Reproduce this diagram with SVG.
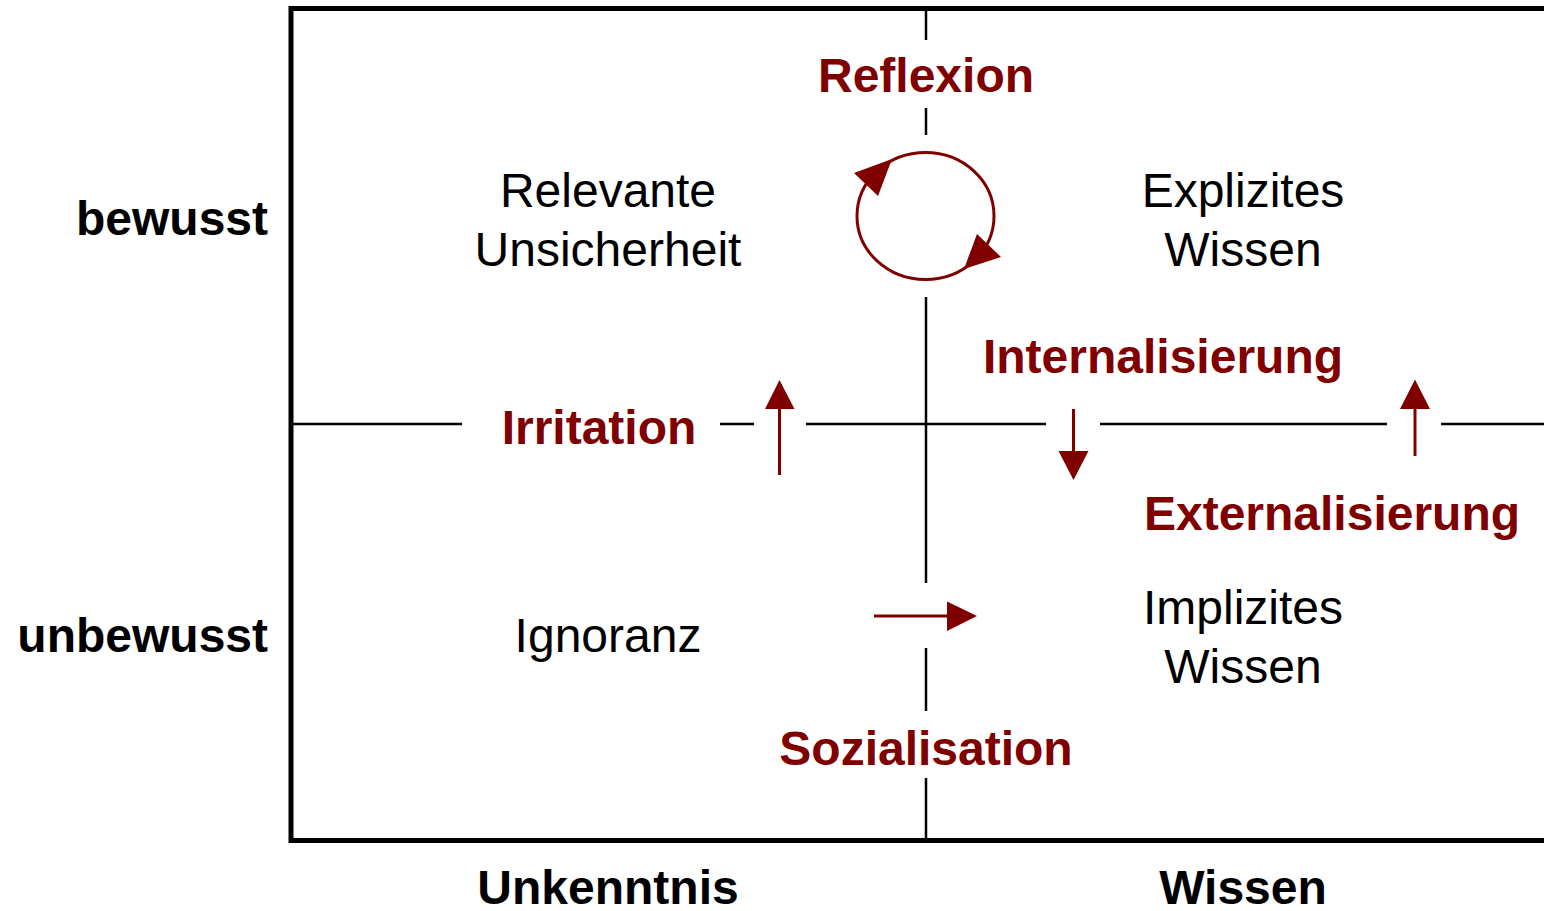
<svg xmlns="http://www.w3.org/2000/svg" width="1544" height="911" viewBox="0 0 1544 911">
<style>
.frame{stroke:#000;stroke-width:5;fill:none}
.grid{stroke:#000;stroke-width:2.5;fill:none}
.arr{stroke:#800000;stroke-width:3;fill:none}
.head{fill:#800000;stroke:none}
text{font-family:"Liberation Sans",Arial,sans-serif;font-size:48px;text-anchor:middle}
.b{font-weight:bold}
.red{fill:#800000;font-weight:bold}
.blk{fill:#000}
</style>
<rect width="1544" height="911" fill="#fff"/>
<g id="frame">
<path class="frame" d="M1550,8.5 H291 V840.5 H1550"/>
</g>
<g id="grid">
<path class="grid" d="M926,8 V40 M926,108 V135 M926,297 V583 M926,648 V711 M926,778 V840"/>
<path class="grid" d="M291,424 H462 M720,424 H754 M806,424 H1046 M1100,424 H1387 M1441,424 H1550"/>
</g>
<g id="connectors">
<ellipse class="arr" cx="925.5" cy="216" rx="68.5" ry="63.5" stroke-width="2.5"/>
<polygon class="head" points="854,173 892,159 878,196"/>
<polygon class="head" points="977,234 1001,257 964,269"/>
<line class="arr" x1="779.5" y1="475" x2="779.5" y2="408"/>
<polygon class="head" points="765,409 779.5,380 794.5,409"/>
<line class="arr" x1="1073.5" y1="409" x2="1073.5" y2="452"/>
<polygon class="head" points="1058.5,451 1073.5,480 1088.5,451"/>
<line class="arr" x1="1415" y1="456" x2="1415" y2="408"/>
<polygon class="head" points="1400,409 1415,379.5 1430,409"/>
<line class="arr" x1="874" y1="616" x2="948" y2="616"/>
<polygon class="head" points="947,601.5 977,616 947,631"/>
</g>
<g id="axis-labels">
<text class="b" x="268" y="235" style="text-anchor:end">bewusst</text>
<text class="b" x="268" y="652" style="text-anchor:end">unbewusst</text>
<text class="b" x="608" y="904">Unkenntnis</text>
<text class="b" x="1243" y="904">Wissen</text>
</g>
<g id="node-relevante">
<text class="blk" x="608" y="207">Relevante</text>
<text class="blk" x="608" y="266">Unsicherheit</text>
</g>
<g id="node-explizit">
<text class="blk" x="1243" y="207">Explizites</text>
<text class="blk" x="1243" y="266">Wissen</text>
</g>
<g id="node-ignoranz">
<text class="blk" x="608" y="652">Ignoranz</text>
</g>
<g id="node-implizit">
<text class="blk" x="1243" y="624">Implizites</text>
<text class="blk" x="1243" y="683">Wissen</text>
</g>
<g id="process-labels">
<text class="red" x="926" y="92">Reflexion</text>
<text class="red" x="1163" y="373">Internalisierung</text>
<text class="red" x="599" y="444">Irritation</text>
<text class="red" x="1332" y="530">Externalisierung</text>
<text class="red" x="926" y="765">Sozialisation</text>
</g>
</svg>
